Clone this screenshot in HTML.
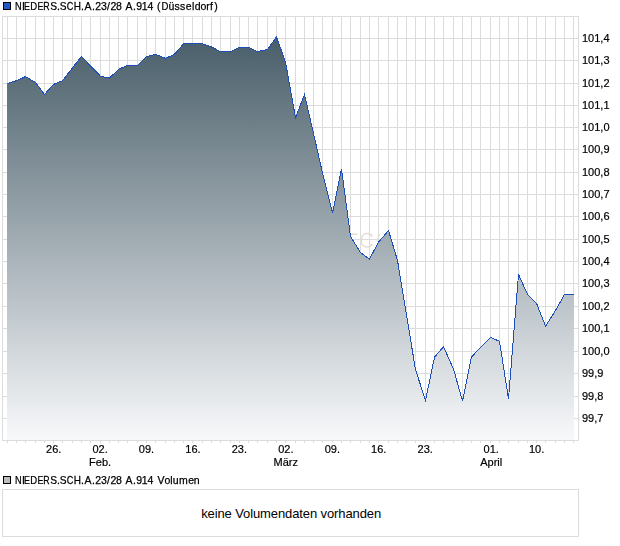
<!DOCTYPE html><html><head><meta charset="utf-8"><style>html,body{margin:0;padding:0;background:#fff;width:620px;height:546px;overflow:hidden}</style></head><body><svg width="620" height="546" viewBox="0 0 620 546" style="position:absolute;left:0;top:0;will-change:transform">
<defs><linearGradient id="g" x1="0" y1="16" x2="0" y2="440" gradientUnits="userSpaceOnUse"><stop offset="0" stop-color="#405662"/><stop offset="1" stop-color="#f8f9fb"/></linearGradient></defs>
<path d="M2 38.5H578 M2 60.5H578 M2 83.5H578 M2 105.5H578 M2 127.5H578 M2 149.5H578 M2 172.5H578 M2 194.5H578 M2 216.5H578 M2 239.5H578 M2 261.5H578 M2 283.5H578 M2 306.5H578 M2 328.5H578 M2 351.5H578 M2 373.5H578 M2 396.5H578 M2 418.5H578 M7.5 16V440 M7.5 441V443 M16.5 16V440 M16.5 441V443 M25.5 16V440 M25.5 441V443 M35.5 16V440 M35.5 441V443 M44.5 16V440 M44.5 441V443 M53.5 16V440 M53.5 441V443 M62.5 16V440 M62.5 441V443 M72.5 16V440 M72.5 441V443 M81.5 16V440 M81.5 441V443 M90.5 16V440 M90.5 441V443 M100.5 16V440 M100.5 441V443 M109.5 16V440 M109.5 441V443 M118.5 16V440 M118.5 441V443 M127.5 16V440 M127.5 441V443 M137.5 16V440 M137.5 441V443 M146.5 16V440 M146.5 441V443 M155.5 16V440 M155.5 441V443 M165.5 16V440 M165.5 441V443 M174.5 16V440 M174.5 441V443 M183.5 16V440 M183.5 441V443 M192.5 16V440 M192.5 441V443 M202.5 16V440 M202.5 441V443 M211.5 16V440 M211.5 441V443 M220.5 16V440 M220.5 441V443 M230.5 16V440 M230.5 441V443 M239.5 16V440 M239.5 441V443 M248.5 16V440 M248.5 441V443 M257.5 16V440 M257.5 441V443 M267.5 16V440 M267.5 441V443 M276.5 16V440 M276.5 441V443 M285.5 16V440 M285.5 441V443 M295.5 16V440 M295.5 441V443 M304.5 16V440 M304.5 441V443 M313.5 16V440 M313.5 441V443 M322.5 16V440 M322.5 441V443 M332.5 16V440 M332.5 441V443 M341.5 16V440 M341.5 441V443 M350.5 16V440 M350.5 441V443 M360.5 16V440 M360.5 441V443 M369.5 16V440 M369.5 441V443 M378.5 16V440 M378.5 441V443 M388.5 16V440 M388.5 441V443 M397.5 16V440 M397.5 441V443 M406.5 16V440 M406.5 441V443 M415.5 16V440 M415.5 441V443 M425.5 16V440 M425.5 441V443 M434.5 16V440 M434.5 441V443 M443.5 16V440 M443.5 441V443 M453.5 16V440 M453.5 441V443 M462.5 16V440 M462.5 441V443 M471.5 16V440 M471.5 441V443 M480.5 16V440 M480.5 441V443 M490.5 16V440 M490.5 441V443 M499.5 16V440 M499.5 441V443 M508.5 16V440 M508.5 441V443 M518.5 16V440 M518.5 441V443 M527.5 16V440 M527.5 441V443 M536.5 16V440 M536.5 441V443 M545.5 16V440 M545.5 441V443 M555.5 16V440 M555.5 441V443 M564.5 16V440 M564.5 441V443 M573.5 16V440 M573.5 441V443" stroke="#dcdcdc" stroke-width="1" fill="none" shape-rendering="crispEdges"/>
<rect x="2.5" y="16.5" width="576" height="424" fill="none" stroke="#dcdcdc" shape-rendering="crispEdges"/>
<g fill="none" stroke="#e4ded8" stroke-width="1.7"><path d="M350 234.2H357.5"/><path d="M372.5 236.5C371 234 369 233.5 367 233.5C363.5 233.5 361.2 236.5 361.2 240.3C361.2 244.3 363.5 247 367 247C369.5 247 371.3 245.8 372.3 244"/><path d="M379.5 233.5L377.2 241.5"/></g>
<path d="M7,440 L7.50,83.40 16.50,80.70 25.50,76.60 35.50,82.50 44.50,94.40 53.50,84.40 62.50,80.70 72.50,67.90 81.50,56.30 90.50,66.00 100.50,76.20 109.50,78.10 118.50,69.40 127.50,65.30 137.50,65.30 146.50,56.60 155.50,54.30 165.50,58.40 174.50,54.30 183.50,43.80 192.50,43.80 202.50,43.70 211.50,47.00 220.50,51.60 230.50,51.60 239.50,47.40 248.50,47.40 257.50,51.60 267.50,49.50 276.50,37.00 285.50,62.00 295.50,117.80 304.50,94.50 313.50,133.40 322.50,173.00 332.50,213.00 341.50,169.00 350.50,236.40 360.50,252.50 369.50,259.10 378.50,242.20 388.50,230.50 397.50,260.40 406.50,315.00 415.50,369.60 425.50,400.50 434.50,357.30 443.50,346.60 453.50,369.00 462.50,401.00 471.50,357.10 480.50,347.30 490.50,337.30 499.50,341.40 508.50,399.00 518.50,274.40 527.50,294.40 536.50,303.20 545.50,326.20 555.50,310.50 564.50,294.40 573.50,294.40 L574,440 Z" fill="url(#g)" shape-rendering="crispEdges"/>
<polyline points="7.50,83.40 16.50,80.70 25.50,76.60 35.50,82.50 44.50,94.40 53.50,84.40 62.50,80.70 72.50,67.90 81.50,56.30 90.50,66.00 100.50,76.20 109.50,78.10 118.50,69.40 127.50,65.30 137.50,65.30 146.50,56.60 155.50,54.30 165.50,58.40 174.50,54.30 183.50,43.80 192.50,43.80 202.50,43.70 211.50,47.00 220.50,51.60 230.50,51.60 239.50,47.40 248.50,47.40 257.50,51.60 267.50,49.50 276.50,37.00 285.50,62.00 295.50,117.80 304.50,94.50 313.50,133.40 322.50,173.00 332.50,213.00 341.50,169.00 350.50,236.40 360.50,252.50 369.50,259.10 378.50,242.20 388.50,230.50 397.50,260.40 406.50,315.00 415.50,369.60 425.50,400.50 434.50,357.30 443.50,346.60 453.50,369.00 462.50,401.00 471.50,357.10 480.50,347.30 490.50,337.30 499.50,341.40 508.50,399.00 518.50,274.40 527.50,294.40 536.50,303.20 545.50,326.20 555.50,310.50 564.50,294.40 573.50,294.40" fill="none" stroke="#1c4fb8" stroke-width="1" shape-rendering="crispEdges"/>
<text x="582" y="42.0" font-family="Liberation Sans" font-size="11" fill="#000" stroke="#000" stroke-width="0.2">101,4</text>
<text x="582" y="64.0" font-family="Liberation Sans" font-size="11" fill="#000" stroke="#000" stroke-width="0.2">101,3</text>
<text x="582" y="87.0" font-family="Liberation Sans" font-size="11" fill="#000" stroke="#000" stroke-width="0.2">101,2</text>
<text x="582" y="109.0" font-family="Liberation Sans" font-size="11" fill="#000" stroke="#000" stroke-width="0.2">101,1</text>
<text x="582" y="131.0" font-family="Liberation Sans" font-size="11" fill="#000" stroke="#000" stroke-width="0.2">101,0</text>
<text x="582" y="153.0" font-family="Liberation Sans" font-size="11" fill="#000" stroke="#000" stroke-width="0.2">100,9</text>
<text x="582" y="176.0" font-family="Liberation Sans" font-size="11" fill="#000" stroke="#000" stroke-width="0.2">100,8</text>
<text x="582" y="198.0" font-family="Liberation Sans" font-size="11" fill="#000" stroke="#000" stroke-width="0.2">100,7</text>
<text x="582" y="220.0" font-family="Liberation Sans" font-size="11" fill="#000" stroke="#000" stroke-width="0.2">100,6</text>
<text x="582" y="243.0" font-family="Liberation Sans" font-size="11" fill="#000" stroke="#000" stroke-width="0.2">100,5</text>
<text x="582" y="265.0" font-family="Liberation Sans" font-size="11" fill="#000" stroke="#000" stroke-width="0.2">100,4</text>
<text x="582" y="287.0" font-family="Liberation Sans" font-size="11" fill="#000" stroke="#000" stroke-width="0.2">100,3</text>
<text x="582" y="310.0" font-family="Liberation Sans" font-size="11" fill="#000" stroke="#000" stroke-width="0.2">100,2</text>
<text x="582" y="332.0" font-family="Liberation Sans" font-size="11" fill="#000" stroke="#000" stroke-width="0.2">100,1</text>
<text x="582" y="355.0" font-family="Liberation Sans" font-size="11" fill="#000" stroke="#000" stroke-width="0.2">100,0</text>
<text x="582" y="377.0" font-family="Liberation Sans" font-size="11" fill="#000" stroke="#000" stroke-width="0.2">99,9</text>
<text x="582" y="400.0" font-family="Liberation Sans" font-size="11" fill="#000" stroke="#000" stroke-width="0.2">99,8</text>
<text x="582" y="422.0" font-family="Liberation Sans" font-size="11" fill="#000" stroke="#000" stroke-width="0.2">99,7</text>
<text x="53.7" y="453" text-anchor="middle" font-family="Liberation Sans" font-size="11" fill="#000" stroke="#000" stroke-width="0.2">26.</text>
<text x="100.1" y="453" text-anchor="middle" font-family="Liberation Sans" font-size="11" fill="#000" stroke="#000" stroke-width="0.2">02.</text>
<text x="100.1" y="466" text-anchor="middle" font-family="Liberation Sans" font-size="11" fill="#000" stroke="#000" stroke-width="0.2">Feb.</text>
<text x="146.5" y="453" text-anchor="middle" font-family="Liberation Sans" font-size="11" fill="#000" stroke="#000" stroke-width="0.2">09.</text>
<text x="193.0" y="453" text-anchor="middle" font-family="Liberation Sans" font-size="11" fill="#000" stroke="#000" stroke-width="0.2">16.</text>
<text x="239.4" y="453" text-anchor="middle" font-family="Liberation Sans" font-size="11" fill="#000" stroke="#000" stroke-width="0.2">23.</text>
<text x="285.8" y="453" text-anchor="middle" font-family="Liberation Sans" font-size="11" fill="#000" stroke="#000" stroke-width="0.2">02.</text>
<text x="285.8" y="466" text-anchor="middle" font-family="Liberation Sans" font-size="11" fill="#000" stroke="#000" stroke-width="0.2">März</text>
<text x="332.3" y="453" text-anchor="middle" font-family="Liberation Sans" font-size="11" fill="#000" stroke="#000" stroke-width="0.2">09.</text>
<text x="378.7" y="453" text-anchor="middle" font-family="Liberation Sans" font-size="11" fill="#000" stroke="#000" stroke-width="0.2">16.</text>
<text x="425.2" y="453" text-anchor="middle" font-family="Liberation Sans" font-size="11" fill="#000" stroke="#000" stroke-width="0.2">23.</text>
<text x="491.2" y="453" text-anchor="middle" font-family="Liberation Sans" font-size="11" fill="#000" stroke="#000" stroke-width="0.2">01.</text>
<text x="491.2" y="466" text-anchor="middle" font-family="Liberation Sans" font-size="11" fill="#000" stroke="#000" stroke-width="0.2">April</text>
<text x="536.6" y="453" text-anchor="middle" font-family="Liberation Sans" font-size="11" fill="#000" stroke="#000" stroke-width="0.2">10.</text>
<rect x="3.5" y="2.5" width="7" height="7" fill="#1f5bc4" stroke="#000" shape-rendering="crispEdges"/>
<g font-family="Liberation Sans" font-size="10.5" fill="#000" stroke="#000" stroke-width="0.25"><text transform="translate(18.40,10) scale(0.88,1)" x="-3.812">N</text><text x="21.95" y="10">I</text><text transform="translate(27.25,10) scale(0.85,1)" x="-3.688">E</text><text transform="translate(33.90,10) scale(0.91,1)" x="-4.000">D</text><text transform="translate(40.55,10) scale(0.85,1)" x="-3.688">E</text><text transform="translate(46.50,10) scale(0.84,1)" x="-3.938">R</text><text transform="translate(53.65,10) scale(0.97,1)" x="-3.500">S</text><text x="56.95" y="10">.</text><text transform="translate(63.20,10) scale(0.97,1)" x="-3.500">S</text><text transform="translate(70.00,10) scale(0.87,1)" x="-3.812">C</text><text transform="translate(77.35,10) scale(0.95,1)" x="-3.812">H</text><text x="81.00" y="10">.</text><text x="84.50" y="10">A</text><text x="92.00" y="10">.</text><text x="95.17" y="10">2</text><text x="100.97" y="10">3</text><text x="106.91" y="10">/</text><text x="110.42" y="10">2</text><text x="116.11" y="10">8</text><text x="125.50" y="10">A</text><text x="132.90" y="10">.</text><text x="136.21" y="10">9</text><text x="141.79" y="10">1</text><text x="147.43" y="10">4</text><text x="157.10" y="10">(</text><text transform="translate(165.10,10) scale(0.91,1)" x="-4.000">D</text><text x="168.46" y="10">ü</text><text x="174.47" y="10">s</text><text x="179.97" y="10">s</text><text x="185.86" y="10">e</text><text x="192.11" y="10">l</text><text x="194.79" y="10">d</text><text x="200.41" y="10">o</text><text x="206.19" y="10">r</text><text x="210.00" y="10">f</text><text x="214.25" y="10">)</text></g>
<rect x="3.5" y="476.5" width="7" height="7" fill="#bdbdbd" stroke="#000" shape-rendering="crispEdges"/>
<g font-family="Liberation Sans" font-size="10.5" fill="#000" stroke="#000" stroke-width="0.25"><text transform="translate(18.40,484) scale(0.88,1)" x="-3.812">N</text><text x="21.95" y="484">I</text><text transform="translate(27.25,484) scale(0.85,1)" x="-3.688">E</text><text transform="translate(33.90,484) scale(0.91,1)" x="-4.000">D</text><text transform="translate(40.55,484) scale(0.85,1)" x="-3.688">E</text><text transform="translate(46.50,484) scale(0.84,1)" x="-3.938">R</text><text transform="translate(53.65,484) scale(0.97,1)" x="-3.500">S</text><text x="56.95" y="484">.</text><text transform="translate(63.20,484) scale(0.97,1)" x="-3.500">S</text><text transform="translate(70.00,484) scale(0.87,1)" x="-3.812">C</text><text transform="translate(77.35,484) scale(0.95,1)" x="-3.812">H</text><text x="81.00" y="484">.</text><text x="84.50" y="484">A</text><text x="92.00" y="484">.</text><text x="95.17" y="484">2</text><text x="100.97" y="484">3</text><text x="106.91" y="484">/</text><text x="110.42" y="484">2</text><text x="116.11" y="484">8</text><text x="125.50" y="484">A</text><text x="132.90" y="484">.</text><text x="136.21" y="484">9</text><text x="141.79" y="484">1</text><text x="147.43" y="484">4</text><text x="157.60" y="484">V</text><text x="164.46" y="484">o</text><text x="170.21" y="484">l</text><text x="172.72" y="484">u</text><text x="179.12" y="484">m</text><text x="188.16" y="484">e</text><text x="193.66" y="484">n</text></g>
<rect x="2.5" y="489.5" width="576" height="47" fill="none" stroke="#dcdcdc" shape-rendering="crispEdges"/>
</svg>
<div style="position:absolute;left:3px;top:490px;width:575px;height:46px;background:#fff"><svg width="575" height="46" viewBox="3 490 575 46" style="display:block"><text x="201.2" y="518" textLength="180" lengthAdjust="spacing" font-family="Liberation Sans" font-size="13" fill="#000">keine Volumendaten vorhanden</text></svg></div></body></html>
